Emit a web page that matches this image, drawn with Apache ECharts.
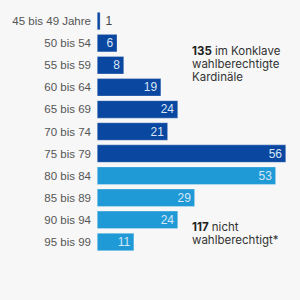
<!DOCTYPE html>
<html>
<head>
<meta charset="utf-8">
<style>
  html, body { margin: 0; padding: 0; background: #f7f7f7; }
  #chart { width: 300px; height: 300px; }
</style>
<script src="https://cdn.jsdelivr.net/npm/echarts@6/dist/echarts.min.js"></script>
</head>
<body>
<div id="chart"></div>
<script>
(function() {
  var categories = ['45 bis 49 Jahre', '50 bis 54', '55 bis 59', '60 bis 64', '65 bis 69', '70 bis 74',
                    '75 bis 79', '80 bis 84', '85 bis 89', '90 bis 94', '95 bis 99'];
  var values = [1, 6, 8, 19, 24, 21, 56, 53, 29, 24, 11];
  // first 7 groups are eligible (under 80), rest not
  var eligible = [true, true, true, true, true, true, true, false, false, false, false];

  var dark = '#0a47a0';
  var light = '#1f9ad6';

  var data = values.map(function(v, i) {
    var item = {
      value: v,
      itemStyle: { color: eligible[i] ? dark : light }
    };
    if (v < 3) {
      item.label = { position: 'right', color: '#444', distance: 5 };
    }
    return item;
  });

  var chart = echarts.init(document.getElementById('chart'), null, { renderer: 'svg' });
  chart.setOption({
    animation: false,
    backgroundColor: '#f7f7f7',
    grid: { left: 97, right: 14, top: 10, bottom: 47 },
    xAxis: {
      type: 'value',
      min: 0,
      max: 56,
      show: false
    },
    yAxis: {
      type: 'category',
      inverse: true,
      data: categories,
      axisLine: { show: false },
      axisTick: { show: false },
      axisLabel: { color: '#555', fontSize: 11.5, fontFamily: 'Liberation Sans', margin: 6 }
    },
    series: [{
      type: 'bar',
      data: data,
      barWidth: 18,
      itemStyle: { borderColor: 'rgba(255,255,255,0.6)', borderWidth: 0.5 },
      label: {
        show: true,
        position: 'insideRight',
        color: '#d8e6f6',
        fontSize: 12,
        fontFamily: 'Liberation Sans',
        distance: 4
      }
    }],
    graphic: [
      {
        type: 'text',
        left: 192,
        top: 44,
        style: {
          text: '{b|135} im Konklave\nwahlberechtigte\nKardinäle',
          rich: { b: { fontWeight: 'bold', fontSize: 11.5, fontFamily: 'Inter', fill: '#222' } },
          fontSize: 11.5,
          fontFamily: 'Inter',
          fill: '#333',
          lineHeight: 13
        }
      },
      {
        type: 'text',
        left: 192,
        top: 220,
        style: {
          text: '{b|117} nicht\nwahlberechtigt*',
          rich: { b: { fontWeight: 'bold', fontSize: 11.5, fontFamily: 'Inter', fill: '#222' } },
          fontSize: 11.5,
          fontFamily: 'Inter',
          fill: '#333',
          lineHeight: 13
        }
      }
    ]
  });
  window.addEventListener('resize', function() { chart.resize(); });
})();
</script>
</body>
</html>
